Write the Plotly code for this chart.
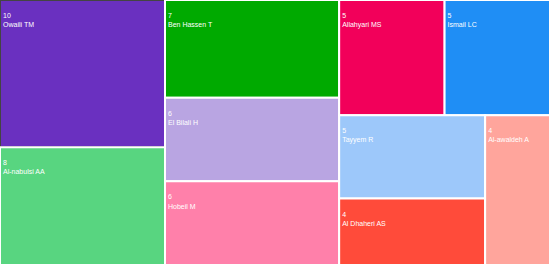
import plotly.graph_objects as go

names = ["Owaili TM", "Al-nabulsi AA", "Ben Hassen T", "El Bilali H", "Hobeil M",
         "Allahyari MS", "Ismail LC", "Tayyem R", "Al Dhaheri AS", "Al-awaldeh A"]
counts = [10, 8, 7, 6, 6, 5, 5, 5, 4, 4]
colors = ["#6a30c0", "#58d580", "#00aa00", "#b9a5e2", "#ff80aa",
          "#f2005a", "#1f8ef5", "#9dc8fa", "#ff4b3a", "#ffa59c"]

fig = go.Figure(go.Treemap(
    labels=names,
    parents=[""] * len(names),
    values=counts,
    sort=False,
    marker=dict(colors=colors, line=dict(color="white", width=2),
                pad=dict(t=0, l=0, r=0, b=0)),
    texttemplate="\u00a0<br>%{value}<br>%{label}",
    textposition="top left",
    textfont=dict(family="Arial, Liberation Sans, sans-serif", size=7, color="white"),
    tiling=dict(packing="squarify", squarifyratio=1.618, pad=0),
    pathbar=dict(visible=False),
    hoverinfo="none",
))

fig.update_layout(
    width=550, height=265,
    margin=dict(l=0, r=0, t=0, b=0),
    paper_bgcolor="white",
)

# drop the browser's default body margin so the chart fills the window
fig.write_html("out.html", config={"displayModeBar": False},
               post_script="document.body.style.margin = '0';")
